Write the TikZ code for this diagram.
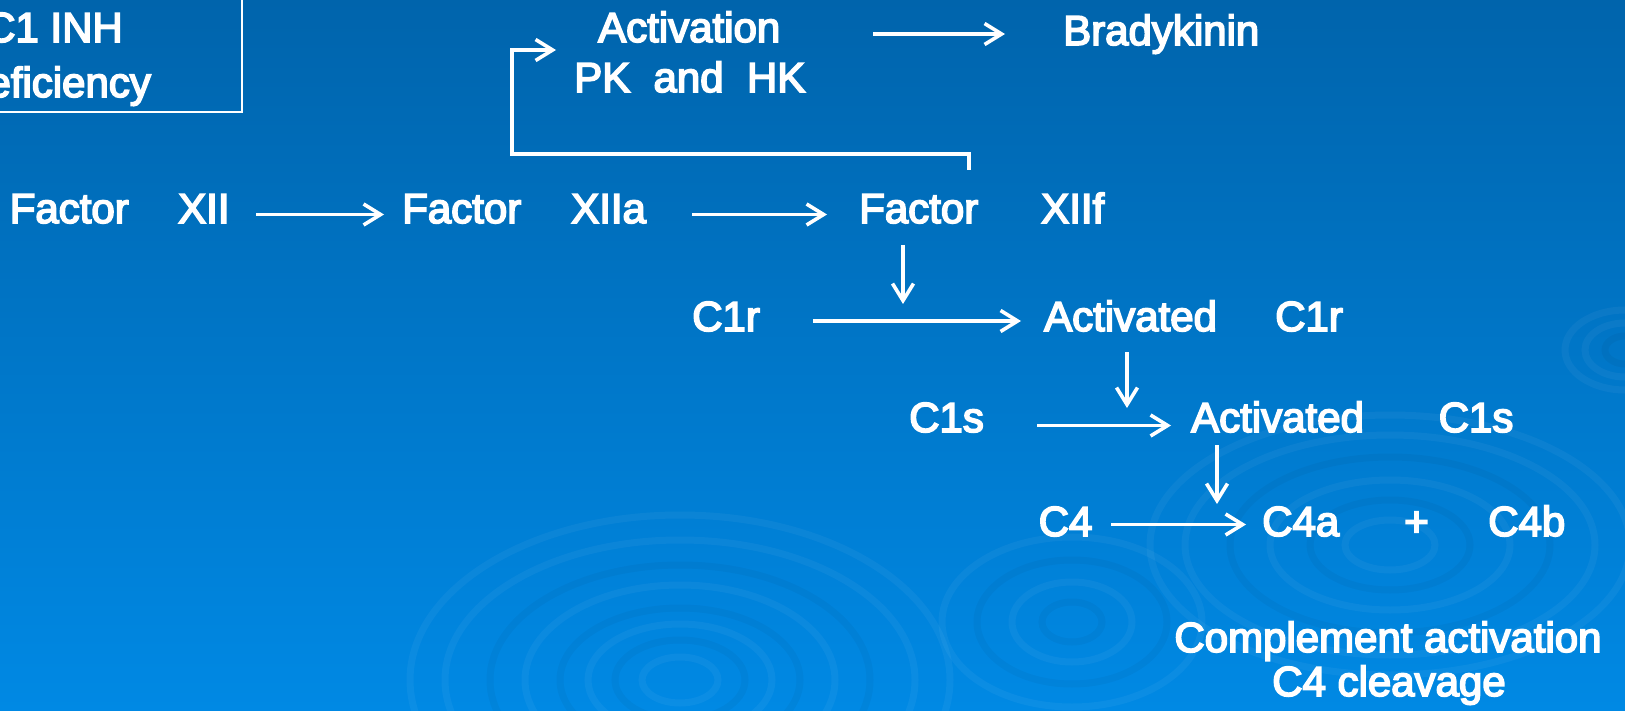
\documentclass[tikz,border=0pt]{standalone}
\usepackage{fontspec}
\newfontfamily\lblfont[FakeBold=4]{Liberation Sans}
\usetikzlibrary{arrows.meta}
\definecolor{bgtop}{RGB}{0,100,172}
\definecolor{bgbot}{RGB}{0,137,228}
\begin{document}
\begin{tikzpicture}[x=1pt,y=-1pt,
  lbl/.style={text=white,font={\lblfont\fontsize{42}{50}\selectfont},inner sep=0pt,anchor=base west},
  lblc/.style={lbl,anchor=base},
  conn/.style={draw=white,line width=3.6pt,-{Straight Barb[length=17pt,width=21pt]}},
  lite/.style={draw=white,opacity=0.045,line width=7pt},
  dark/.style={draw=black,opacity=0.035,line width=7pt}]
\useasboundingbox (0,0) rectangle (1625,711);
\shade[top color=bgtop,bottom color=bgbot] (0,0) rectangle (1625,711);
% background ripples
\begin{scope}
\clip (0,0) rectangle (1625,711);
\draw[lite] (680,680) ellipse [x radius=270,y radius=165];
\draw[lite] (680,680) ellipse [x radius=235,y radius=140];
\draw[dark] (680,680) ellipse [x radius=190,y radius=115];
\draw[lite] (680,680) ellipse [x radius=155,y radius=95];
\draw[dark] (680,680) ellipse [x radius=120,y radius=72];
\draw[lite] (680,680) ellipse [x radius=92,y radius=56];
\draw[dark] (680,680) ellipse [x radius=65,y radius=40];
\draw[lite] (680,680) ellipse [x radius=38,y radius=23];
\draw[lite] (1390,545) ellipse [x radius=240,y radius=130];
\draw[lite] (1390,545) ellipse [x radius=205,y radius=110];
\draw[dark] (1390,545) ellipse [x radius=160,y radius=88];
\draw[lite] (1390,545) ellipse [x radius=120,y radius=65];
\draw[dark] (1390,545) ellipse [x radius=80,y radius=45];
\draw[lite] (1390,545) ellipse [x radius=45,y radius=25];
\draw[lite] (1072,622) ellipse [x radius=130,y radius=85];
\draw[dark] (1072,622) ellipse [x radius=95,y radius=62];
\draw[lite] (1072,622) ellipse [x radius=60,y radius=40];
\draw[dark] (1072,622) ellipse [x radius=30,y radius=20];
\draw[lite] (1625,350) ellipse [x radius=60,y radius=40];
\draw[lite] (1625,350) ellipse [x radius=40,y radius=27];
\draw[dark] (1625,350) ellipse [x radius=20,y radius=14];
\end{scope}
% box
\draw[white,line width=2.4pt] (-20,-20) rectangle (242,112);
\node[lblc] (inh) at (54,42) {C1 INH};
\node[lblc] (def) at (54,97) {Deficiency};
% row 1
\node[lbl] (act) at (598,42) {Activation};
\node[lbl] (pkhk) at (574,92) {PK~~and~~HK};
\node[lbl] (brady) at (1063,45) {Bradykinin};
% row 2
\node[lbl] (f1) at (9.5,223) {Factor};
\node[lbl] (x1) at (178,223) {XII};
\node[lbl] (f2) at (402,223) {Factor};
\node[lbl] (x2) at (571,223) {XIIa};
\node[lbl] (f3) at (859,223) {Factor};
\node[lbl] (x3) at (1041,223) {XIIf};
% row 3
\node[lbl] (c1r) at (692,331) {C1r};
\node[lbl] (actr) at (1044,331) {Activated};
\node[lbl] (c1ra) at (1275,331) {C1r};
% row 4
\node[lbl] (c1s) at (909,432) {C1s};
\node[lbl] (acts) at (1191,432) {Activated};
\node[lbl] (c1sa) at (1438.5,432) {C1s};
% row 5
\node[lbl] (c4) at (1038.5,536) {C4};
\node[lbl] (c4a) at (1262,536) {C4a};
\node[lbl] (plus) at (1404,536) {+};
\node[lbl] (c4b) at (1488,536) {C4b};
% row 6
\node[lblc] (comp) at (1388,652) {Complement activation};
\node[lblc] (clv) at (1389,696) {C4 cleavage};
% connector end points
\coordinate (a1s) at (873,34);   \coordinate (a1e) at (1005,34);
\coordinate (a2s) at (256,214.5); \coordinate (a2e) at (384,214.5);
\coordinate (a3s) at (692,214.5); \coordinate (a3e) at (827,214.5);
\coordinate (a4s) at (813,321);  \coordinate (a4e) at (1021,321);
\coordinate (a5s) at (1037,425.5); \coordinate (a5e) at (1171,425.5);
\coordinate (a6s) at (1111,524.5); \coordinate (a6e) at (1246,524.5);
\coordinate (d1s) at (903,245);  \coordinate (d1e) at (903,304);
\coordinate (d2s) at (1127,352); \coordinate (d2e) at (1127,408);
\coordinate (d3s) at (1217,445); \coordinate (d3e) at (1217,504);
\coordinate (fbs) at (969,170);  \coordinate (fbe) at (556,50);
% connectors
\draw[conn] (a1s) -- (a1e);
\draw[conn] (a2s) -- (a2e);
\draw[conn] (a3s) -- (a3e);
\draw[conn] (a4s) -- (a4e);
\draw[conn] (a5s) -- (a5e);
\draw[conn] (a6s) -- (a6e);
\draw[conn] (d1s) -- (d1e);
\draw[conn] (d2s) -- (d2e);
\draw[conn] (d3s) -- (d3e);
\draw[conn] (fbs) -- ++(0,-16) -| (512,50) -- (fbe);
\end{tikzpicture}
\end{document}
